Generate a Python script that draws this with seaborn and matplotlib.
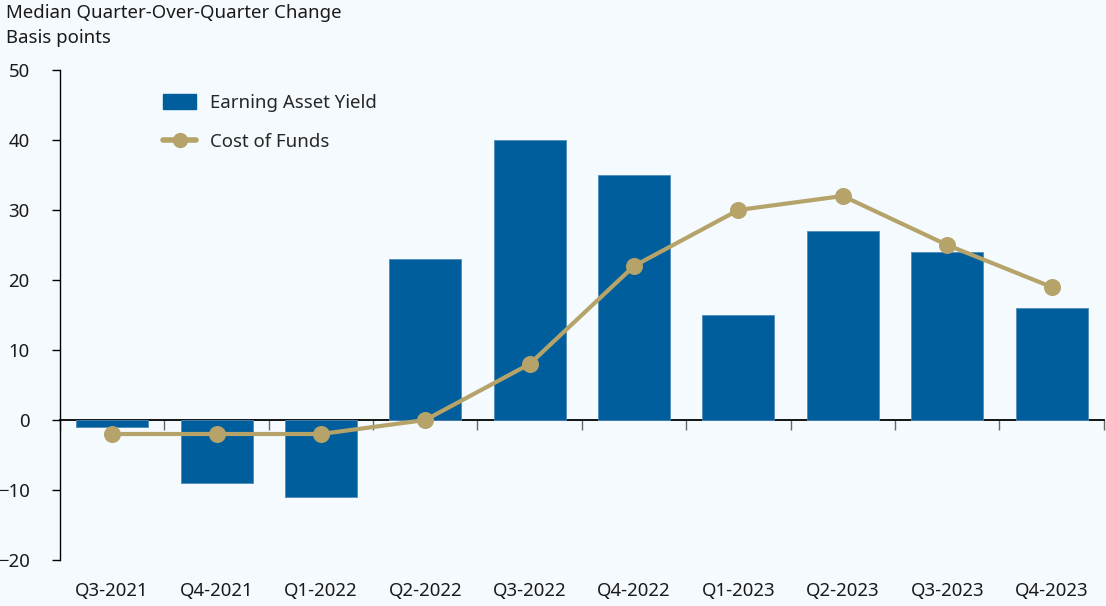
import matplotlib
matplotlib.use("Agg")
import matplotlib.pyplot as plt
from matplotlib.patches import Patch
from matplotlib.lines import Line2D
import seaborn as sns

# Chart data
quarters = ["Q3-2021", "Q4-2021", "Q1-2022", "Q2-2022", "Q3-2022",
            "Q4-2022", "Q1-2023", "Q2-2023", "Q3-2023", "Q4-2023"]
earning_asset_yield = [-1, -9, -11, 23, 40, 35, 15, 27, 24, 16]
cost_of_funds = [-2, -2, -2, 0, 8, 22, 30, 32, 25, 19]

bg = "#F5FAFE"
bar_color = "#005E9C"
line_color = "#B5A36A"
fs = 13.4

sns.set_theme(style="white")
plt.rcParams['font.family'] = ['Noto Sans', 'DejaVu Sans']

fig = plt.figure(figsize=(11.06, 6.06), dpi=100, facecolor=bg)
ax = fig.add_axes([0.0542, 0.0759, 0.9438, 0.8086])
ax.set_facecolor(bg)

sns.barplot(x=quarters, y=earning_asset_yield, color=bar_color, width=0.69,
            saturation=1, edgecolor="#4F8CBC", linewidth=0.6, ax=ax, zorder=2)
sns.pointplot(x=quarters, y=cost_of_funds, color=line_color, markers="o",
              markersize=10, linewidth=3, ax=ax, zorder=3)

ymin, ymax = -20, 50
ax.set_ylim(ymin, ymax)
ax.set_xlim(-0.5, len(quarters) - 0.5)
ax.set_yticks(range(-20, 51, 10))
ax.tick_params(axis='y', direction='out', length=5.8, width=1, color='black',
               left=True, pad=16, labelsize=fs, labelcolor='#1a1a1a')

ax.tick_params(axis='x', length=0, pad=16, labelsize=fs, labelcolor='#1a1a1a')
ax.set_xlabel("")
ax.set_ylabel("")

for side in ["top", "right", "bottom"]:
    ax.spines[side].set_visible(False)
ax.spines["left"].set_color("black")
ax.spines["left"].set_linewidth(1)

# zero line with boundary ticks
zero_loc = (0 - ymin) / (ymax - ymin)
sec = ax.secondary_xaxis(zero_loc)
sec.set_xticks([i - 0.5 for i in range(len(quarters) + 1)])
sec.set_xticklabels([])
sec.tick_params(axis='x', direction='out', length=7, width=1, color='#666666')
sec.spines["bottom"].set_color("black")
sec.spines["bottom"].set_linewidth(1.3)

handles = [
    Patch(facecolor=bar_color, edgecolor=bar_color, label="Earning Asset Yield"),
    Line2D([0], [0], color=line_color, lw=4, marker="o", markersize=10,
           label="Cost of Funds"),
]
ax.legend(handles=handles, loc="upper left", bbox_to_anchor=(0.083, 0.985),
          frameon=False, fontsize=fs, handlelength=1.78, handleheight=0.85,
          labelspacing=1.1, handletextpad=0.75)

fig.text(0.005, 0.993, "Median Quarter-Over-Quarter Change", fontsize=fs,
         color='#1a1a1a', va='top', ha='left')
fig.text(0.005, 0.952, "Basis points", fontsize=fs, color='#1a1a1a',
         va='top', ha='left')

fig.savefig("out.png", dpi=100, facecolor=bg)
